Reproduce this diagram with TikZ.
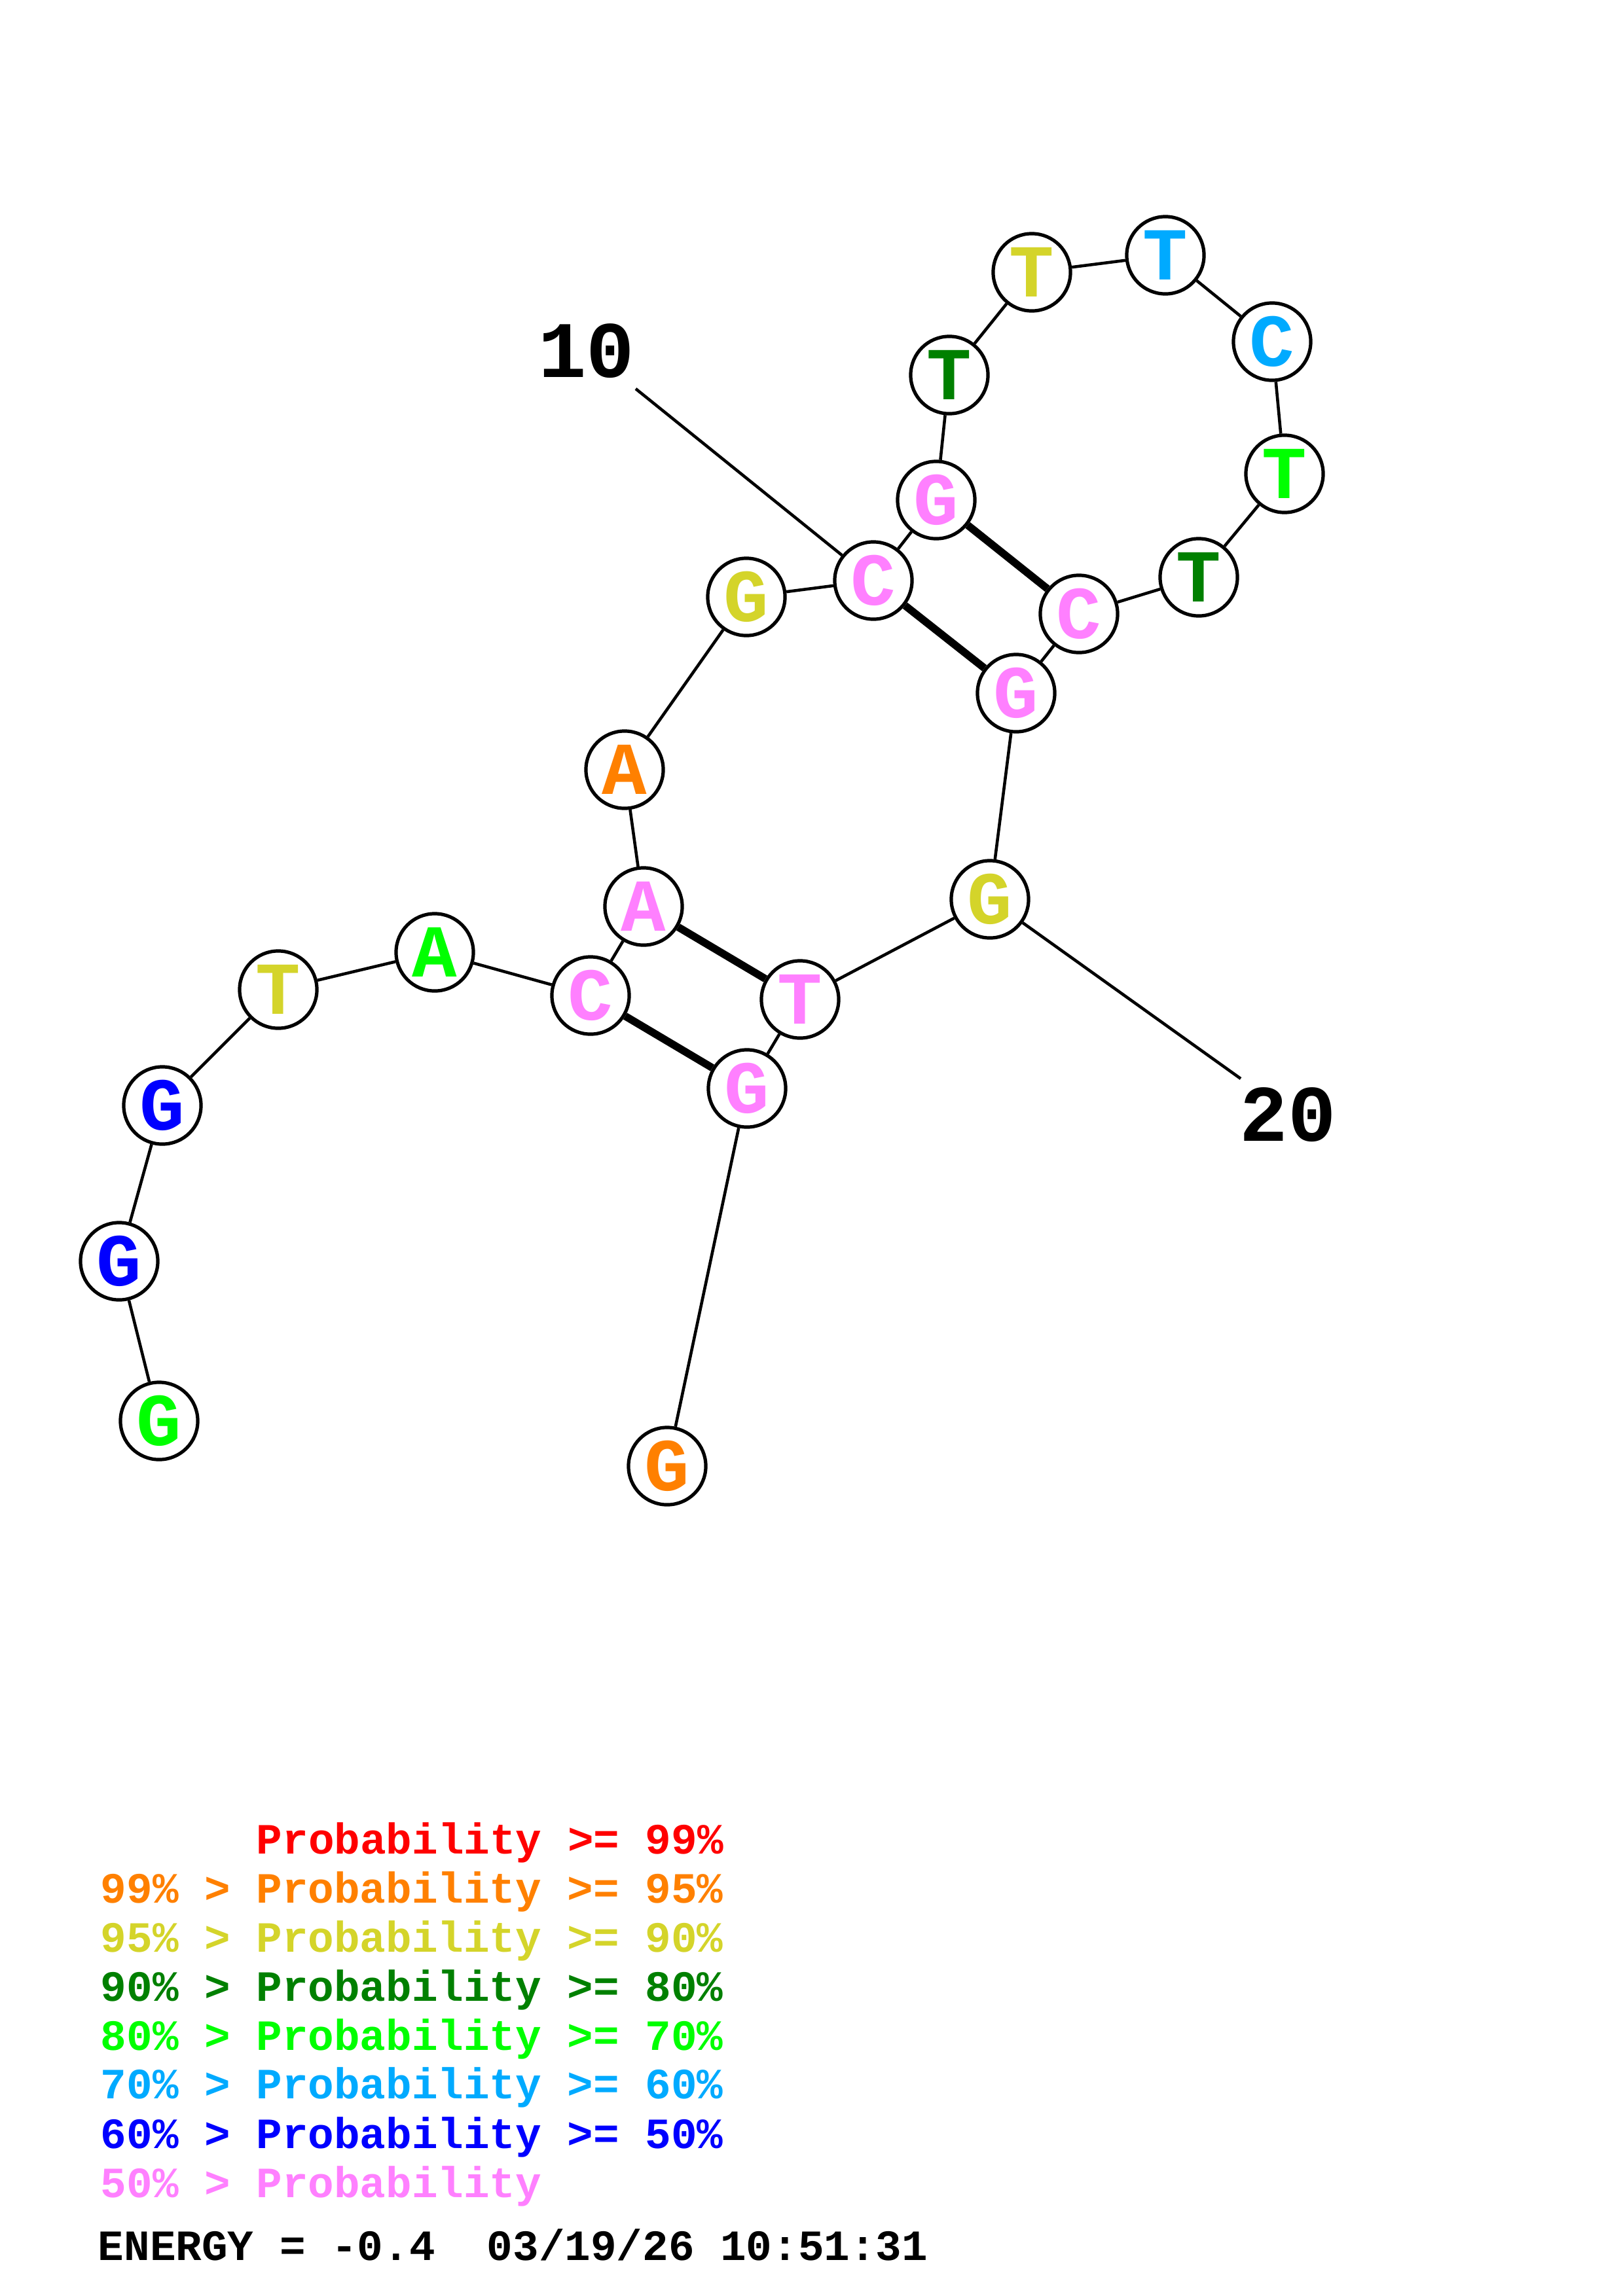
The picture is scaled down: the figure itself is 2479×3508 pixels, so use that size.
\documentclass[tikz,border=0pt]{standalone}
\usepackage{fontspec}
\setmonofont{Liberation Mono}
\usetikzlibrary{positioning}
\definecolor{pr99}{RGB}{255,0,0}
\definecolor{pr95}{RGB}{255,128,0}
\definecolor{pr90}{RGB}{212,212,42}
\definecolor{pr80}{RGB}{0,128,0}
\definecolor{pr70}{RGB}{0,255,0}
\definecolor{pr60}{RGB}{0,170,255}
\definecolor{pr50}{RGB}{0,0,255}
\definecolor{prlow}{RGB}{255,128,255}
\tikzset{base node/.style={circle,draw,fill=white,line width=1.25pt,minimum size=10mm,inner sep=0pt,
    font=\ttfamily\bfseries\fontsize{27.5}{28}\selectfont},
  num node/.style={inner sep=0pt,font=\ttfamily\bfseries\fontsize{29.5}{30}\selectfont},
  key node/.style={anchor=base west,inner sep=0pt,font=\ttfamily\bfseries\fontsize{15.9}{18}\selectfont},}

\begin{document}
\begin{tikzpicture}[x=0.0846667mm, y=-0.0846667mm]
   \useasboundingbox (0,0) rectangle (2479,3508);
   % bases
   \node[base node, text=pr70] (1) at (243,2171) {G};
   \node[base node, text=pr50] (2) at (182,1927) {G};
   \node[base node, text=pr50] (3) at (248,1689) {G};
   \node[base node, text=pr90] (4) at (425,1512) {T};
   \node[base node, text=pr70] (5) at (664,1455) {A};
   \node[base node, text=prlow] (6) at (902,1521) {C};
   \node[base node, text=prlow] (7) at (983,1385) {A};
   \node[base node, text=pr95] (8) at (954,1176) {A};
   \node[base node, text=pr90] (9) at (1140,912) {G};
   \node[base node, text=prlow] (10) at (1334,887) {C};
   \node[base node, text=prlow] (11) at (1430,764) {G};
   \node[base node, text=pr80] (12) at (1450,573) {T};
   \node[base node, text=pr90] (13) at (1576,416) {T};
   \node[base node, text=pr60] (14) at (1780,390) {T};
   \node[base node, text=pr60] (15) at (1943,522) {C};
   \node[base node, text=pr70] (16) at (1962,724) {T};
   \node[base node, text=pr80] (17) at (1831,882) {T};
   \node[base node, text=prlow] (18) at (1648,938) {C};
   \node[base node, text=prlow] (19) at (1552,1059) {G};
   \node[base node, text=pr90] (20) at (1512,1374) {G};
   \node[base node, text=prlow] (21) at (1222,1527) {T};
   \node[base node, text=prlow] (22) at (1141,1663) {G};
   \node[base node, text=pr95] (23) at (1019,2240) {G};
   % numbering
   \node[num node] (n10) at (896,536) {10};
   \node[num node] (n20) at (1967,1703) {20};
   \coordinate (c10) at (971,594);
   \coordinate (c20) at (1895,1648);
   \path[draw, line width=1.1pt]
   (1) edge (2)
   (2) edge (3)
   (3) edge (4)
   (4) edge (5)
   (5) edge (6)
   (6) edge (7)
   (7) edge (8)
   (8) edge (9)
   (9) edge (10)
   (10) edge (11)
   (11) edge (12)
   (12) edge (13)
   (13) edge (14)
   (14) edge (15)
   (15) edge (16)
   (16) edge (17)
   (17) edge (18)
   (18) edge (19)
   (19) edge (20)
   (20) edge (21)
   (21) edge (22)
   (22) edge (23)
   (c10) edge (10)
   (c20) edge (20);
   % pairs
   \path[draw, line width=2.8pt]
   (6) edge (22)
   (7) edge (21)
   (10) edge (19)
   (11) edge (18);
   % legend
   \node[key node, text=pr99] (k1) at (391,2832) {Probability >= 99\%};
   \node[key node, text=pr95] (k2) at (153,2907) {99\% > Probability >= 95\%};
   \node[key node, text=pr90] (k3) at (153,2982) {95\% > Probability >= 90\%};
   \node[key node, text=pr80] (k4) at (153,3057) {90\% > Probability >= 80\%};
   \node[key node, text=pr70] (k5) at (153,3132) {80\% > Probability >= 70\%};
   \node[key node, text=pr60] (k6) at (153,3206) {70\% > Probability >= 60\%};
   \node[key node, text=pr50] (k7) at (153,3282) {60\% > Probability >= 50\%};
   \node[key node, text=prlow] (k8) at (153,3357) {50\% > Probability};
   \node[key node] (energy) at (149,3453) {ENERGY = -0.4\ \ 03/19/26 10:51:31};
\end{tikzpicture}
\end{document}
